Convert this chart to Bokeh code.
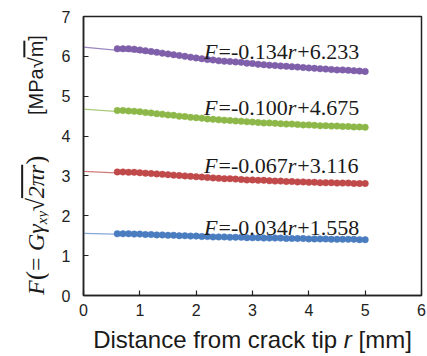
from bokeh.plotting import figure
from bokeh.models import Range1d, FixedTicker, Div
from bokeh.layouts import row, column
from bokeh.core.properties import value
from bokeh.embed import file_html
from bokeh.resources import INLINE

# ---------------- data ----------------
r = [0.6, 0.7, 0.8, 0.9, 1.0, 1.1, 1.2, 1.3, 1.4, 1.5, 1.6, 1.7, 1.8, 1.9, 2.0,
     2.1, 2.2, 2.3, 2.4, 2.5, 2.6, 2.7, 2.8, 2.9, 3.0, 3.1, 3.2, 3.3, 3.4, 3.5,
     3.6, 3.7, 3.8, 3.9, 4.0, 4.1, 4.2, 4.3, 4.4, 4.5, 4.6, 4.7, 4.8, 4.9, 5.0]

F_purple = [6.19, 6.19, 6.19, 6.18, 6.16, 6.14, 6.12, 6.10, 6.08, 6.06, 6.04, 6.02, 6.00, 5.98, 5.96,
            5.94, 5.92, 5.91, 5.89, 5.88, 5.87, 5.86, 5.85, 5.83, 5.82, 5.80, 5.79, 5.78, 5.77, 5.76,
            5.75, 5.74, 5.73, 5.72, 5.71, 5.70, 5.69, 5.68, 5.67, 5.66, 5.66, 5.65, 5.64, 5.63, 5.62]
F_green = [4.64, 4.64, 4.63, 4.62, 4.61, 4.59, 4.58, 4.56, 4.55, 4.53, 4.52, 4.50, 4.49, 4.47, 4.46,
           4.45, 4.43, 4.42, 4.41, 4.40, 4.39, 4.38, 4.37, 4.36, 4.35, 4.34, 4.33, 4.33, 4.32, 4.31,
           4.30, 4.30, 4.29, 4.28, 4.28, 4.27, 4.26, 4.26, 4.25, 4.25, 4.24, 4.24, 4.23, 4.23, 4.22]
F_red = [3.10, 3.10, 3.09, 3.09, 3.08, 3.07, 3.06, 3.05, 3.04, 3.03, 3.02, 3.01, 3.00, 2.99, 2.98,
         2.97, 2.96, 2.95, 2.94, 2.93, 2.93, 2.92, 2.91, 2.90, 2.90, 2.89, 2.89, 2.88, 2.87, 2.87,
         2.86, 2.86, 2.85, 2.85, 2.84, 2.84, 2.83, 2.83, 2.83, 2.82, 2.82, 2.82, 2.81, 2.81, 2.81]
F_blue = [1.55, 1.55, 1.55, 1.54, 1.54, 1.53, 1.53, 1.52, 1.52, 1.51, 1.51, 1.50, 1.50, 1.49, 1.49,
          1.48, 1.48, 1.47, 1.47, 1.47, 1.46, 1.46, 1.46, 1.45, 1.45, 1.45, 1.44, 1.44, 1.44, 1.44,
          1.43, 1.43, 1.43, 1.43, 1.42, 1.42, 1.42, 1.42, 1.41, 1.41, 1.41, 1.41, 1.41, 1.40, 1.40]

series = [F_purple, F_green, F_red, F_blue]
slopes = [-0.134, -0.100, -0.067, -0.034]
intercepts = [6.233, 4.675, 3.116, 1.558]
colors = ["#7F5FAA", "#8DB849", "#C0494A", "#4A7CC0"]
line_colors = ["#9B86C0", "#A9CB7A", "#D07A78", "#86A8D8"]

fit_x = [0.0, 5.0]
x_ticks = [0, 1, 2, 3, 4, 5, 6]
y_ticks = [0, 1, 2, 3, 4, 5, 6, 7]

x_label_html = 'Distance from crack tip <i>r</i> [mm]'

# equation label placement (style)
eq_x = 2.14
eq_y = [6.11, 4.71, 3.26, 1.70]

SERIF = "Liberation Serif"
SANS = "Liberation Sans"

p = figure(width=379, height=324, output_backend="svg", toolbar_location=None,
           x_range=Range1d(0, 6), y_range=Range1d(0, 7),
           min_border_left=35, min_border_right=6, min_border_top=16, min_border_bottom=29)
p.background_fill_color = "white"
p.border_fill_color = "white"
p.xgrid.visible = False
p.ygrid.visible = False
p.outline_line_color = "#222222"
p.outline_line_width = 1.5

for ax in (p.xaxis[0], p.yaxis[0]):
    ax.axis_line_color = "#222222"
    ax.axis_line_width = 1.5
    ax.major_tick_in = 5
    ax.major_tick_out = 0
    ax.minor_tick_in = 0
    ax.minor_tick_out = 0
    ax.major_tick_line_color = "#222222"
    ax.major_tick_line_width = 1.2
    ax.major_label_text_font = SANS
    ax.major_label_text_font_size = "16px"
    ax.major_label_text_color = "#222222"

p.xaxis.ticker = FixedTicker(ticks=x_ticks)
p.yaxis.ticker = FixedTicker(ticks=y_ticks)
p.xaxis.major_label_standoff = 8
p.yaxis.major_label_standoff = 13

# fit lines and data
for ys, a, b, c, lc in zip(series, slopes, intercepts, colors, line_colors):
    p.line(fit_x, [b + a * x for x in fit_x], line_color=lc, line_width=1.2)
    p.scatter(r, ys, size=6.5, fill_color=c, line_color=c, line_width=0.5)

# equations: italic F, "=-0.134", italic r, "+6.233"
fs = 22
w_F = 0.611 * fs + 1
for a, b, ey in zip(slopes, intercepts, eq_y):
    s1 = "=-%.3f" % abs(a)
    s2 = "+%.3f" % b
    w1 = (0.564 + 0.333 + 0.5 + 0.25 + 1.5) * fs
    w_r = 0.389 * fs + 1
    pieces = [("F", "italic", 0), (s1, "normal", w_F), ("r", "italic", w_F + w1),
              (s2, "normal", w_F + w1 + w_r)]
    for txt, style, off in pieces:
        p.text(x=[eq_x], y=[ey], text=[txt], x_offset=off,
               text_font=value(SERIF), text_font_style=style,
               text_font_size="%dpx" % fs, text_color="#1a1a1a",
               text_align="left", text_baseline="alphabetic")

# y label (rotated, bottom-to-top) as HTML
y_html = (
    '<div style="writing-mode:vertical-rl; transform:rotate(180deg); height:356px; width:26px; '
    'margin-left:23px; line-height:26px; padding-top:61px; box-sizing:border-box; '
    'white-space:nowrap; color:#1a1a1a;">'
    '<span style="font-family:\'Liberation Serif\'; font-size:24px;">'
    '<i>F</i><span style="font-size:28px;">(</span>= <i>G&gamma;<sub style="font-size:15px;">xy</sub></i>'
    '&radic;<span style="text-decoration:overline;"><i>2&pi;r</i></span>'
    '<span style="font-size:28px;">)</span></span>'
    '<span style="font-family:\'Liberation Sans\'; font-size:20px; padding-top:40px;">[MPa&radic;'
    '<span style="text-decoration:overline;">m</span>]</span>'
    '</div>'
)
ydiv = Div(text=y_html, width=48, height=356, margin=0, styles={"overflow": "visible"})

x_html = ('<div style="width:409px; text-align:center; line-height:32px; margin:0; '
          'font-family:\'Liberation Sans\'; font-size:24px; color:#1a1a1a; white-space:nowrap;">'
          + x_label_html + '</div>')
xdiv = Div(text=x_html, width=379, height=32, margin=0, styles={"overflow": "visible"})

layout = row(ydiv, column(p, xdiv, spacing=0), spacing=0)

open("out.html", "w").write(file_html(layout, INLINE))
